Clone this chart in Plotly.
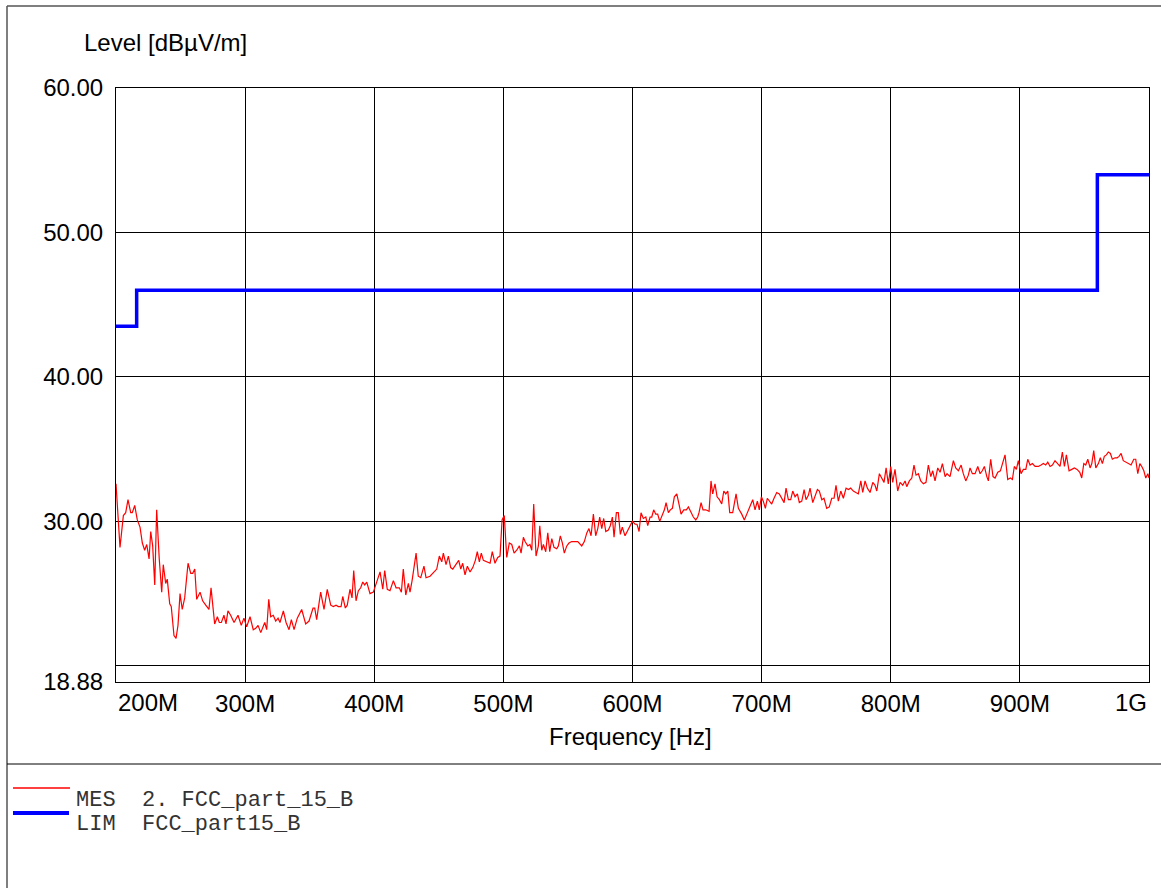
import plotly.graph_objects as go

W, H = 1161, 888
L, R, T, B = 116, 1149, 88, 682

# ---- measurement (MHz, dBuV/m) ----
freq_mhz = [
    200.0, 203.1, 205.7, 207.5, 209.3, 211.4, 212.6, 214.5, 216.5, 218.6,
    220.4, 222.2, 223.8, 225.6, 226.9, 228.4, 230.0, 231.5, 233.5, 235.4,
    236.6, 238.5, 239.7, 241.6, 242.8, 244.9, 246.5, 248.0, 249.6, 251.3,
    253.2, 255.8, 257.9, 259.4, 261.0, 262.5, 265.1, 267.1, 269.5, 272.0,
    273.6, 276.4, 278.5, 280.0, 281.6, 283.6, 285.2, 286.7, 288.8, 291.4,
    294.5, 297.0, 299.1, 301.2, 303.8, 306.3, 308.2, 310.0, 312.1, 313.9,
    315.2, 316.7, 318.3, 319.8, 321.8, 323.7, 325.5, 327.0, 329.6, 331.7,
    334.0, 335.8, 337.9, 340.4, 343.8, 346.9, 349.5, 352.6, 353.9, 355.4,
    358.5, 361.1,
    363.6, 366.3, 368.3, 370.4, 372.2, 374.3, 375.6, 377.6, 379.1, 381.2,
    382.8, 384.1, 385.9, 387.7, 389.5, 391.1, 392.6, 394.2, 396.7, 399.3,
    401.9, 404.5, 406.6, 408.1, 410.1, 412.2, 414.8, 416.9, 419.4, 421.0,
    422.5, 424.4, 426.4, 427.7, 429.3, 432.4, 434.1, 436.0, 438.5, 440.1,
    443.2, 446.3, 448.4, 450.4, 452.3, 453.5, 455.6, 457.4, 459.2, 460.8,
    463.3, 465.4, 467.0, 468.5, 470.3, 472.1, 474.2, 476.3, 478.3, 479.8,
    481.4, 482.9, 484.5, 487.1, 489.7, 491.4, 493.5, 495.6, 497.4, 499.0,
    500.7, 502.6, 504.6, 506.5, 508.3, 510.3, 512.4, 513.7, 515.5,
    516.8, 518.9, 520.6, 522.0, 523.5, 525.3, 527.1, 528.2, 529.7, 531.0,
    532.8, 534.4, 535.9, 537.5, 539.2, 541.3, 542.6, 544.1, 545.7, 547.2,
    549.1, 550.8, 552.9, 555.0, 557.6, 560.7, 562.7, 564.6, 566.3, 567.9,
    569.7, 571.5, 573.1, 574.6, 576.2, 577.7, 579.3, 581.3, 582.8, 584.4,
    585.7, 587.5, 589.0, 590.6, 592.1, 594.2, 596.3, 598.1, 599.9, 602.0,
    603.5, 605.1, 606.6, 608.4, 610.3, 611.8, 613.6, 614.9, 616.4, 618.0,
    619.5, 621.1, 623.1, 624.7, 626.0, 627.8, 629.3, 630.9, 632.4, 634.3,
    636.0, 637.6, 639.7, 641.7, 643.3, 645.3, 647.1, 649.0, 650.5, 651.5,
    653.1, 654.6, 656.7, 659.3, 660.8, 662.1, 663.9, 665.5, 667.3, 669.1,
    670.7, 672.2, 673.8, 675.3,
    677.6, 680.2, 682.0, 684.6, 686.6, 688.5, 691.0, 693.1, 694.9, 696.7,
    698.2, 699.8, 701.3, 702.9, 704.4, 706.0, 707.8, 709.6, 711.7, 713.7,
    715.6, 717.4, 718.9, 720.7, 722.5, 724.1, 725.9, 727.7, 729.2, 731.1,
    732.9, 734.4, 736.2, 737.5, 739.6, 741.4, 743.2, 744.7, 746.6, 748.3,
    750.4, 752.4, 754.3, 756.1, 757.6, 759.4, 761.3, 763.3, 765.4, 767.2,
    769.0, 771.0, 773.1, 774.9, 776.8, 778.3, 780.1, 781.9, 784.0, 786.1,
    787.8, 789.2, 791.2, 793.0, 794.8, 796.4, 798.1, 800.0, 801.5, 803.3,
    805.4, 807.2, 809.3, 811.1, 812.4, 814.4, 816.3, 818.0, 819.6, 821.4,
    823.2, 825.3, 827.3, 829.1, 831.0, 832.5,
    834.3, 836.4, 838.2, 840.0, 842.1, 843.6, 845.9, 848.5, 850.3, 852.4,
    854.5, 856.2, 858.1, 860.1, 861.4, 863.2, 865.3, 867.4, 869.2, 870.9,
    872.5, 874.4, 875.6, 877.4, 879.2, 880.8, 882.9, 884.9, 886.7, 888.5,
    890.6, 892.6, 894.2, 895.7, 897.3, 898.8, 900.9, 902.7, 904.6, 906.1,
    907.9, 909.7, 911.8, 914.3, 916.4, 918.2, 920.0, 921.6, 923.4, 925.2,
    927.2, 929.3, 931.1, 932.9, 934.5, 936.0, 938.1, 940.2, 942.2, 944.3,
    946.4, 947.9, 949.5, 951.0, 952.6, 954.4, 955.7, 957.2, 958.8, 960.8,
    962.3, 963.9, 965.4, 967.0, 968.5, 970.1, 971.6, 973.7, 975.3, 976.8,
    978.4, 980.1, 982.0, 984.0, 986.1, 988.2, 989.7, 991.3, 992.9, 994.4,
    996.0, 997.5, 999.1, 1000.0,
]
level_dbuv = [
    32.6, 28.2, 30.4, 30.6, 31.5, 30.6, 30.6, 31.1, 30.1, 29.6,
    28.5, 28.0, 28.4, 27.4, 29.3, 28.3, 25.6, 30.8, 27.4, 25.1,
    27.0, 25.7, 26.0, 24.3, 24.1, 22.1, 21.9, 22.8, 25.0, 23.9,
    24.7, 27.1, 26.4, 26.4, 26.7, 24.6, 25.1, 24.5, 24.2, 23.9,
    25.4, 22.9, 23.4, 23.0, 23.0, 23.5, 22.9, 23.8, 23.5, 23.0,
    23.5, 22.8, 23.3, 22.7, 23.4, 22.5, 22.6, 22.8, 22.3, 22.7,
    23.0, 22.5, 24.6, 23.4, 23.5, 23.1, 23.3, 23.0, 23.8, 23.0,
    22.5, 23.2, 22.5, 23.3, 23.9, 22.9, 23.1, 24.0, 24.0, 23.2,
    25.1, 23.9,
    25.3, 24.2, 24.1, 24.2, 24.1, 24.1, 24.8, 24.0, 24.2, 25.3,
    24.7, 26.6, 24.5, 25.2, 25.4, 25.8, 25.6, 25.8, 25.0, 25.1,
    25.8, 26.5, 25.3, 26.6, 25.3, 25.2, 25.9, 25.4, 25.4, 25.1,
    26.7, 24.9, 25.7, 25.1, 25.9, 27.8, 26.2, 26.1, 26.9, 26.1,
    26.2, 26.5, 26.7, 27.6, 27.2, 27.8, 27.0, 27.6, 26.8, 26.7,
    27.0, 27.3, 26.7, 27.1, 26.3, 26.9, 26.5, 26.8, 27.3, 27.9,
    27.2, 27.8, 27.3, 27.2, 27.1, 27.9, 27.1, 27.5, 27.6, 30.1,
    30.4, 27.5, 28.5, 28.4, 27.8, 28.0, 28.3, 27.8, 28.9,
    28.6, 28.3, 28.4, 28.0, 31.2, 27.6, 28.3, 29.7, 28.0, 28.4,
    27.9, 29.2, 27.9, 28.8, 28.2, 28.1, 28.3, 29.0, 28.5, 27.8,
    28.3, 28.5, 28.6, 28.6, 28.6, 28.3, 28.6, 29.2, 29.5, 29.0,
    30.5, 29.0, 29.5, 30.3, 29.5, 30.2, 29.3, 29.4, 29.7, 30.3,
    28.9, 30.6, 30.6, 29.1, 29.6, 29.0, 29.4, 29.7, 30.0, 29.8,
    29.8, 29.3, 30.6, 30.2, 30.3, 29.7, 30.3, 30.3, 30.8, 30.5,
    30.5, 30.0, 30.5, 30.8, 31.3, 30.6, 30.8, 30.9, 31.7, 31.9,
    31.2, 30.5, 30.8, 30.8, 31.0, 30.6, 30.3, 30.1, 30.3, 30.6,
    31.3, 30.8, 30.8, 30.7, 32.8, 31.9, 32.6, 31.7, 31.5, 31.2,
    32.1, 31.9, 32.1, 30.6,
    30.6, 31.9, 30.9, 30.5, 30.1, 30.5, 31.0, 31.5, 30.8, 31.4,
    30.8, 31.7, 31.4, 30.9, 31.6, 31.4, 31.2, 31.6, 32.0, 31.9,
    31.6, 31.3, 32.3, 31.5, 31.5, 32.1, 31.7, 31.9, 31.3, 31.4,
    32.2, 31.5, 31.8, 32.3, 31.3, 31.7, 32.2, 32.1, 31.5, 31.6,
    30.9, 31.0, 31.6, 31.6, 32.5, 31.4, 32.1, 31.6, 32.3, 32.2,
    32.3, 32.1, 32.0, 31.9, 32.8, 32.0, 32.8, 32.3, 32.0, 32.7,
    32.5, 32.1, 33.3, 33.0, 32.7, 33.7, 32.6, 33.8, 32.7, 33.6,
    32.1, 32.7, 32.5, 32.8, 32.4, 32.8, 33.0, 33.9, 33.2, 33.3,
    32.8, 32.6, 32.7, 33.9, 33.1, 33.5,
    32.8, 33.7, 33.4, 34.0, 33.1, 33.3, 33.1, 34.2, 33.7, 33.5,
    33.9, 33.3, 32.8, 33.2, 33.7, 33.3, 33.3, 33.8, 33.3, 33.5,
    33.8, 33.1, 32.8, 34.3, 33.1, 33.0, 33.4, 33.5, 34.0, 34.6,
    32.9, 33.0, 32.9, 33.8, 33.6, 34.2, 33.3, 33.6, 33.6, 34.3,
    33.9, 34.0, 33.8, 33.8, 33.9, 34.0, 33.9, 34.1, 33.8, 33.9,
    34.2, 34.0, 33.8, 34.8, 33.8, 34.6, 33.5, 33.6, 33.7, 33.6,
    33.4, 33.0, 34.0, 33.9, 34.3, 33.7, 34.0, 34.9, 33.7, 34.0,
    34.4, 34.0, 34.5, 34.6, 34.8, 34.7, 34.3, 34.4, 34.4, 34.5,
    34.7, 34.2, 34.1, 34.0, 33.9, 34.3, 34.3, 33.3, 34.0, 33.8,
    33.5, 33.0, 33.3, 33.0,
]
assert len(freq_mhz) == len(level_dbuv)

# ---- limit line (FCC part 15 B) ----
limit_freq_mhz = [200, 216, 960, 1000]
limit_level_dbuv = [43.5, 46.0, 54.0, 54.0]

# ---- ticks ----
x_tick_vals = [300, 400, 500, 600, 700, 800, 900]
x_tick_text = ["300M", "400M", "500M", "600M", "700M", "800M", "900M"]
x_end_vals = [200, 1000]
x_end_text = ["200M", "1G"]
y_tick_vals = [18.88, 20, 30, 40, 50, 60]
y_tick_text = ["18.88", "", "30.00", "40.00", "50.00", "60.00"]

legend_names = ["MES  2. FCC_part_15_B", "LIM  FCC_part15_B"]


def pxx(x):
    return (x - L) / (R - L)


def pxy(y):
    return (B - y) / (B - T)


SANS = "Liberation Sans, Arial, sans-serif"
MONO = "Liberation Mono, Courier New, monospace"
FS = 24

fig = go.Figure()
fig.add_trace(go.Scatter(x=freq_mhz, y=level_dbuv, mode="lines",
                         line=dict(color="#ff0000", width=1.2),
                         showlegend=False, hoverinfo="skip"))
fig.add_trace(go.Scatter(x=limit_freq_mhz, y=limit_level_dbuv, mode="lines",
                         line=dict(color="#0000ff", width=3.5, shape="hv"),
                         showlegend=False, hoverinfo="skip"))

axis_common = dict(showgrid=True, gridcolor="#000000", gridwidth=1,
                   showline=True, linecolor="#000000", linewidth=1, mirror=True,
                   zeroline=False, tickcolor="rgba(0,0,0,0)",
                   tickfont=dict(family=SANS, size=FS, color="#000000"))

fig.update_xaxes(range=[200, 1000], tickmode="array", tickvals=x_tick_vals,
                 ticktext=x_tick_text, ticks="", ticklen=0, **axis_common)
fig.update_yaxes(range=[18.88, 60], tickmode="array", tickvals=y_tick_vals,
                 ticktext=y_tick_text, ticks="outside", ticklen=7, **axis_common)

annotations = []
annotations.append(dict(x=x_end_vals[0], y=pxy(702), xref="x", yref="paper",
                        text=x_end_text[0], showarrow=False, xanchor="left",
                        yanchor="middle", font=dict(family=SANS, size=FS, color="#000")))
annotations.append(dict(x=x_end_vals[1], y=pxy(702), xref="x", yref="paper",
                        text=x_end_text[1], showarrow=False, xanchor="right",
                        yanchor="middle", font=dict(family=SANS, size=FS, color="#000")))
annotations.append(dict(x=pxx(82), y=pxy(42), xref="paper", yref="paper",
                        text="Level [dBµV/m]", showarrow=False, xanchor="left",
                        yanchor="middle", font=dict(family=SANS, size=FS, color="#000")))
annotations.append(dict(x=pxx(630), y=pxy(736), xref="paper", yref="paper",
                        text="Frequency [Hz]", showarrow=False, xanchor="center",
                        yanchor="middle", font=dict(family=SANS, size=FS, color="#000")))
annotations.append(dict(x=pxx(74), y=pxy(800), xref="paper", yref="paper",
                        text=legend_names[0], showarrow=False, xanchor="left",
                        yanchor="middle", font=dict(family=MONO, size=22, color="#333")))
annotations.append(dict(x=pxx(74), y=pxy(824), xref="paper", yref="paper",
                        text=legend_names[1], showarrow=False, xanchor="left",
                        yanchor="middle", font=dict(family=MONO, size=22, color="#333")))

frame_col = "#555555"
shapes = [
    dict(type="line", xref="paper", yref="paper", x0=pxx(7), x1=pxx(7),
         y0=pxy(6), y1=pxy(900), line=dict(color=frame_col, width=1.5)),
    dict(type="line", xref="paper", yref="paper", x0=pxx(7), x1=pxx(1170),
         y0=pxy(6), y1=pxy(6), line=dict(color=frame_col, width=1.5)),
    dict(type="line", xref="paper", yref="paper", x0=pxx(7), x1=pxx(1170),
         y0=pxy(764), y1=pxy(764), line=dict(color="#000000", width=1)),
    dict(type="line", xref="paper", yref="paper", x0=pxx(13), x1=pxx(70),
         y0=pxy(788), y1=pxy(788), line=dict(color="#ff0000", width=1.5)),
    dict(type="line", xref="paper", yref="paper", x0=pxx(13), x1=pxx(69),
         y0=pxy(813), y1=pxy(813), line=dict(color="#0000ff", width=4)),
]

fig.update_layout(width=W, height=H,
                  margin=dict(l=L, r=W - R, t=T, b=H - B, pad=0),
                  paper_bgcolor="#ffffff", plot_bgcolor="#ffffff",
                  showlegend=False, annotations=annotations, shapes=shapes,
                  font=dict(family=SANS, size=FS, color="#000"))

fig.write_html("out.html", config={"displayModeBar": False},
               post_script="document.body.style.margin='0';document.body.style.overflow='hidden';")
